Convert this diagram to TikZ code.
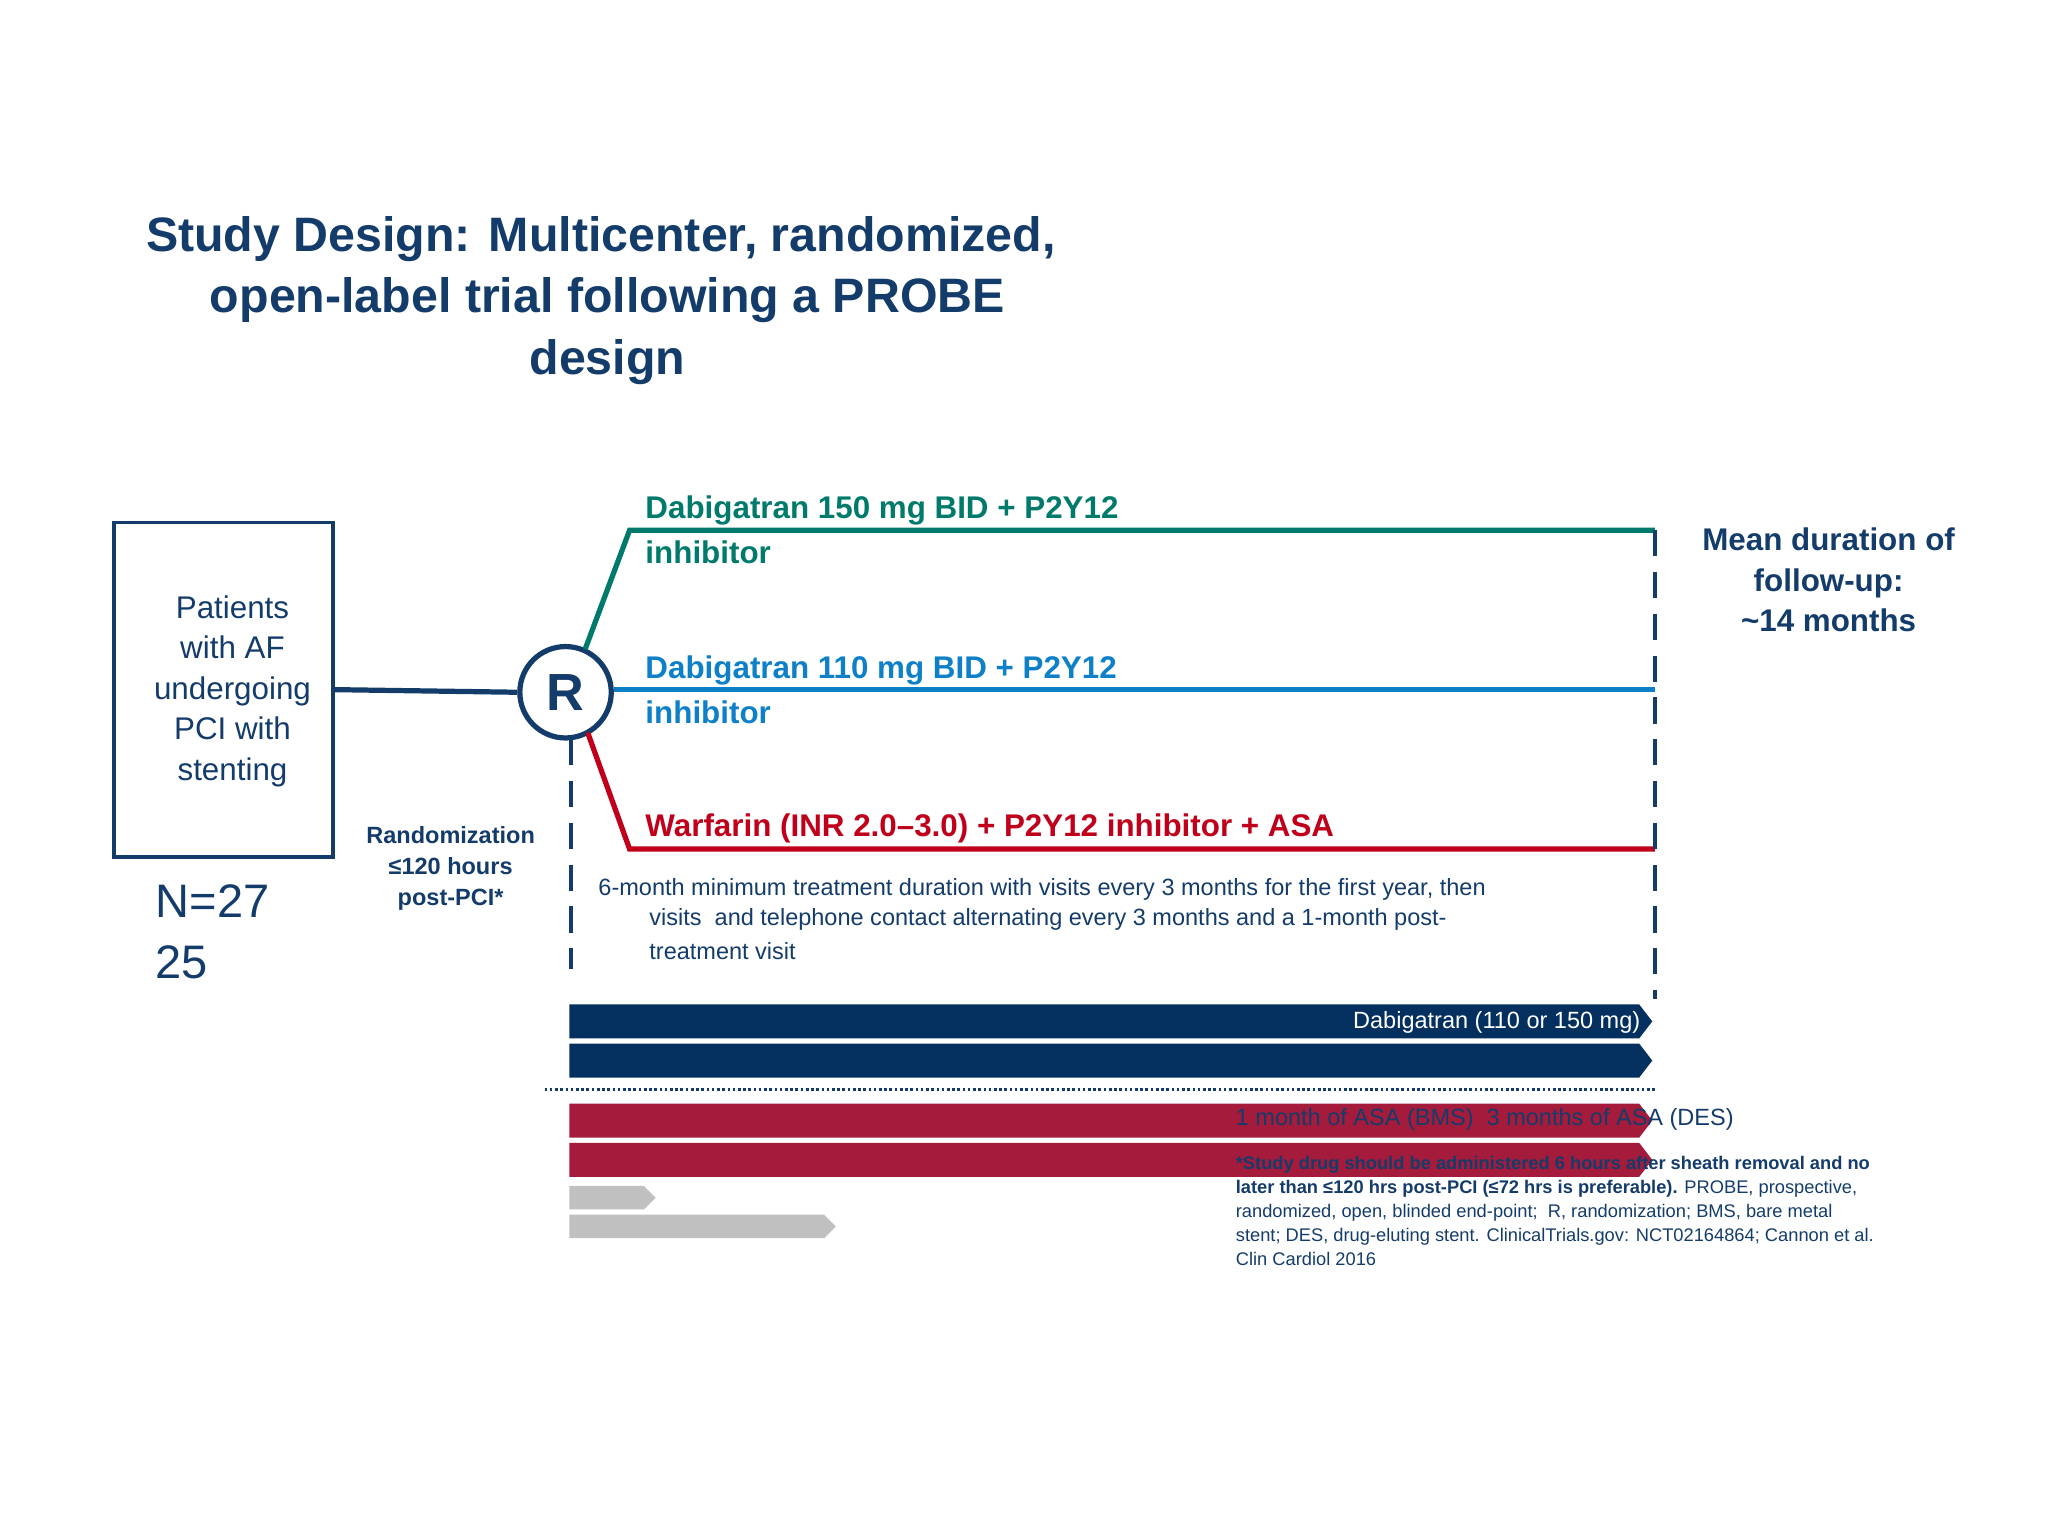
\documentclass[tikz,border=0pt]{standalone}
\usepackage{fontspec}
\setmainfont{Liberation Sans}
\definecolor{navy}{HTML}{143C6B}
\definecolor{bar}{HTML}{04305F}
\definecolor{grn}{HTML}{007A6A}
\definecolor{blu}{HTML}{0D80C8}
\definecolor{rd}{HTML}{C0001A}
\definecolor{rbar}{HTML}{A51B3B}
\definecolor{gbar}{HTML}{C0C0C0}
\begin{document}
\begin{tikzpicture}[x=1pt,y=-1pt,
  arm/.style={line width=4pt},
  dsh/.style={navy,line width=3pt,dash pattern=on 20pt off 12pt},
  lbl/.style={anchor=west,font=\fontsize{24}{28}\selectfont\bfseries,inner sep=0pt},
  note/.style={anchor=west,font=\fontsize{18}{22}\selectfont,navy,inner sep=0pt},
  tt/.style={font=\fontsize{37}{47}\selectfont\bfseries,navy,inner sep=0pt}]
\useasboundingbox (0,0) rectangle (1568,1176);
\node[tt] (t1) at (460,183) {Study Design: Multicenter, randomized,};
\node[tt] (t2) at (465,230) {open-label trial following a PROBE};
\node[tt] (t3) at (465,277) {design};
\node[draw=navy,line width=3pt,minimum width=168pt,minimum height=256pt] (box) at (171,528) {};
\node[navy,align=center,font=\fontsize{24}{31}\selectfont] (boxt) at (178,529) {Patients\\ with AF\\ undergoing\\ PCI with\\ stenting};
\node[navy,align=left,anchor=north west,font=\fontsize{36}{47}\selectfont,inner sep=0pt] (n) at (119,677) {N=27\\25};
\node[circle,draw=navy,line width=4pt,minimum size=70pt,inner sep=0pt,font=\fontsize{40}{40}\selectfont\bfseries,navy] (R) at (433,530) {R};
\draw[navy,arm] (box.east |- 0,528) coordinate (be) -- (R.west);
\coordinate (gs) at (448,497); \coordinate (gk) at (482,406); \coordinate (ge) at (1267,406);
\coordinate (bs) at (470,528); \coordinate (bend) at (1267,528);
\coordinate (rs) at (450,561); \coordinate (rk) at (482,650); \coordinate (re) at (1267,650);
\draw[grn,arm] (gs) -- (gk) -- (ge);
\draw[blu,arm] (bs) -- (bend);
\draw[rd,arm] (rs) -- (rk) -- (re);
\coordinate (d1a) at (437,566); \coordinate (d1b) at (437,742);
\coordinate (d2a) at (1267,406); \coordinate (d2b) at (1267,765);
\draw[dsh] (d1a) -- (d1b);
\draw[dsh] (d2a) -- (d2b);
\node[lbl,grn] (g1) at (494,391) {Dabigatran 150 mg BID + P2Y12};
\node[lbl,grn] (g2) at (494,423) {inhibitor};
\node[lbl,blu] (b1) at (494,513) {Dabigatran 110 mg BID + P2Y12};
\node[lbl,blu] (b2) at (494,545) {inhibitor};
\node[lbl,rd] (r1) at (494,634) {Warfarin (INR 2.0–3.0) + P2Y12 inhibitor + ASA};
\node[navy,align=center,font=\fontsize{18}{23.5}\selectfont\bfseries] (rand) at (345,665) {Randomization\\ ≤120 hours\\ post-PCI*};
\node[navy,align=center,font=\fontsize{24}{31}\selectfont\bfseries] (mean) at (1400,444) {Mean duration of\\ follow-up:\\ \textasciitilde14 months};
\node[note] (m1) at (458,681) {6-month minimum treatment duration with visits every 3 months for the first year, then};
\node[note] (m2) at (497,704) {visits \ and telephone contact alternating every 3 months and a 1-month post-};
\node[note] (m3) at (497,728) {treatment visit};
% bars
\tikzset{arrbar/.style={}}
\fill[bar] (436,769) -- (1255,769) -- (1265,782) -- (1255,795) -- (436,795) -- cycle;
\node[anchor=east,white,font=\fontsize{18}{22}\selectfont,inner sep=0pt] (db) at (1256,783) {Dabigatran (110 or 150 mg)};
\fill[bar] (436,799) -- (1255,799) -- (1265,812) -- (1255,825) -- (436,825) -- cycle;
\begin{scope}
\clip (436,799) rectangle (1265,825);
\node[anchor=west,white,font=\fontsize{18}{22}\selectfont,inner sep=0pt] (wf) at (1098,834) {Warfarin, P2Y12 i};
\end{scope}
\coordinate (dl1) at (417,834); \coordinate (dl2) at (1267,834);
\draw[navy,line width=2pt,dash pattern=on 2pt off 2pt] (dl1) -- (dl2);
\fill[rbar] (436,845) -- (1255,845) -- (1265,858) -- (1255,871) -- (436,871) -- cycle;
\fill[rbar] (436,875) -- (1255,875) -- (1265,888) -- (1255,901) -- (436,901) -- cycle;
\fill[gbar] (436,908) -- (493,908) -- (502,917) -- (493,926) -- (436,926) -- cycle;
\fill[gbar] (436,930) -- (631,930) -- (640,939) -- (631,948) -- (436,948) -- cycle;
\node[note] (asa) at (946,857) {1 month of ASA (BMS) \ 3 months of ASA (DES)};
\node[anchor=north west,navy,align=left,inner sep=0pt,font=\fontsize{14}{18.3}\selectfont] (fn) at (946,885)
 {\textbf{*Study drug should be administered 6 hours after sheath removal and no}\\
  \textbf{later than ≤120 hrs post-PCI (≤72 hrs is preferable).} PROBE, prospective,\\
  randomized, open, blinded end-point; \ R, randomization; BMS, bare metal\\
  stent; DES, drug-eluting stent. ClinicalTrials.gov: NCT02164864; Cannon et al.\\
  Clin Cardiol 2016};
\end{tikzpicture}
\end{document}
